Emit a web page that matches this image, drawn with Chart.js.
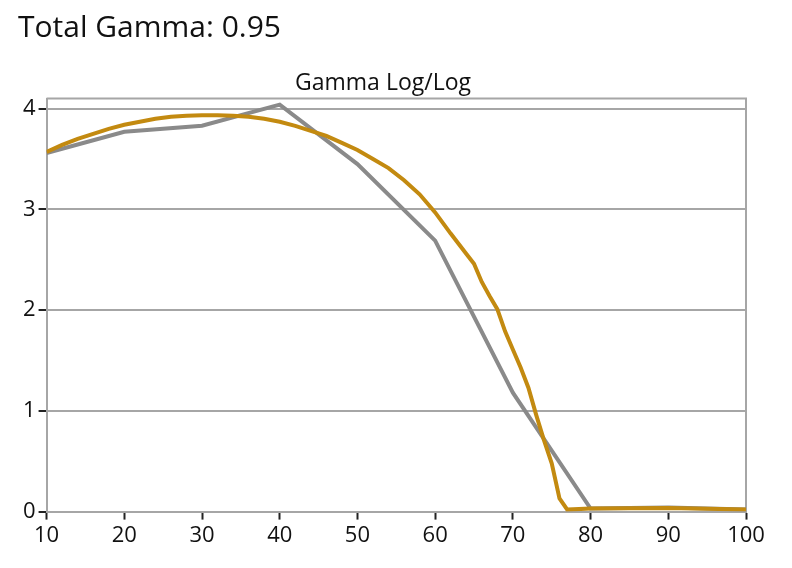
<!DOCTYPE html>
<html>
<head>
<meta charset="utf-8">
<title>Total Gamma</title>
<script src="https://cdn.jsdelivr.net/npm/chart.js@4"></script>
<style>
  html, body { margin: 0; padding: 0; background: #fff; }
  #wrap { position: relative; width: 792px; height: 568px; }
  #mainTitle {
    position: absolute; left: 18px; top: 11px;
    font: 30px/1 "Open Sans", sans-serif; color: #111;
  }
  canvas { display: block; }
</style>
</head>
<body>
<div id="wrap">
  <div id="mainTitle">Total Gamma: 0.95</div>
  <canvas id="gammaChart" width="792" height="568"></canvas>
</div>
<script>
// x positions (stimulus %) and gamma values
const measuredX = [10, 20, 30, 40, 50, 60, 70, 80, 90, 100];
const measuredGamma = [3.56, 3.77, 3.83, 4.04, 3.45, 2.69, 1.18, 0.03, 0.04, 0.02];

const targetX = [10, 12, 14, 16, 18, 20, 22, 24, 26, 28, 30, 32, 34, 36, 38, 40,
  42, 44, 46, 48, 50, 52, 54, 56, 58, 60, 62, 64, 65, 66, 67, 68, 69, 70,
  71, 72, 73, 74, 75, 76, 77, 80, 90, 100];
const targetGamma = [3.57, 3.64, 3.70, 3.75, 3.80, 3.84, 3.87, 3.90, 3.92, 3.93, 3.935, 3.935, 3.93, 3.92, 3.90, 3.87,
  3.83, 3.78, 3.73, 3.66, 3.59, 3.50, 3.41, 3.29, 3.15, 2.97, 2.76, 2.56, 2.46, 2.28, 2.14, 2.01, 1.79, 1.61,
  1.43, 1.23, 0.96, 0.71, 0.48, 0.13, 0.02, 0.03, 0.035, 0.02];

const xTicks = [10, 20, 30, 40, 50, 60, 70, 80, 90, 100];
const yTicks = [0, 1, 2, 3, 4];

const toPoints = (xs, ys) => xs.map((x, i) => ({ x: x, y: ys[i] }));

const GRID = '#a6a6a6';
const TICK_FONT = { family: '"Open Sans", sans-serif', size: 22 };

// draws the top and right edges of the plot box
const boxBorder = {
  id: 'boxBorder',
  beforeDatasetsDraw(chart) {
    const { ctx, chartArea: a } = chart;
    ctx.save();
    ctx.strokeStyle = GRID;
    ctx.lineWidth = 2;
    ctx.beginPath();
    ctx.moveTo(a.left, a.top);
    ctx.lineTo(a.right, a.top);
    ctx.lineTo(a.right, a.bottom);
    ctx.stroke();
    ctx.restore();
  }
};

document.addEventListener('DOMContentLoaded', () => {
  const ctx = document.getElementById('gammaChart').getContext('2d');
  new Chart(ctx, {
    type: 'line',
    data: {
      datasets: [{
        label: 'Target',
        data: toPoints(targetX, targetGamma),
        borderColor: '#c38a10',
        borderWidth: 4,
        pointRadius: 0,
        tension: 0
      }, {
        label: 'Measured',
        data: toPoints(measuredX, measuredGamma),
        borderColor: '#8a8a8a',
        borderWidth: 4,
        pointRadius: 0,
        tension: 0
      }]
    },
    options: {
      responsive: false,
      animation: false,
      layout: { padding: { left: 20, right: 46, top: 70, bottom: 16 } },
      plugins: {
        legend: { display: false },
        tooltip: { enabled: false },
        title: {
          display: true,
          text: 'Gamma Log/Log',
          color: '#111',
          font: { family: '"Open Sans", sans-serif', size: 23, weight: 'normal' },
          padding: { top: 0, bottom: 1 }
        }
      },
      scales: {
        x: {
          type: 'linear',
          min: 10,
          max: 100,
          afterBuildTicks: (scale) => { scale.ticks = xTicks.map(v => ({ value: v })); },
          grid: { drawOnChartArea: false, tickLength: 8, tickColor: '#222', tickWidth: 2 },
          border: { color: GRID, width: 2 },
          ticks: { color: '#111', font: TICK_FONT, padding: 3, maxRotation: 0 }
        },
        y: {
          min: 0,
          max: 4.1,
          afterBuildTicks: (scale) => { scale.ticks = yTicks.map(v => ({ value: v })); },
          grid: { color: GRID, lineWidth: 2, tickLength: 8, tickColor: '#222', tickWidth: 2 },
          border: { color: GRID, width: 2 },
          ticks: { color: '#111', font: TICK_FONT, padding: 3 }
        }
      }
    },
    plugins: [boxBorder]
  });
});
</script>
</body>
</html>
